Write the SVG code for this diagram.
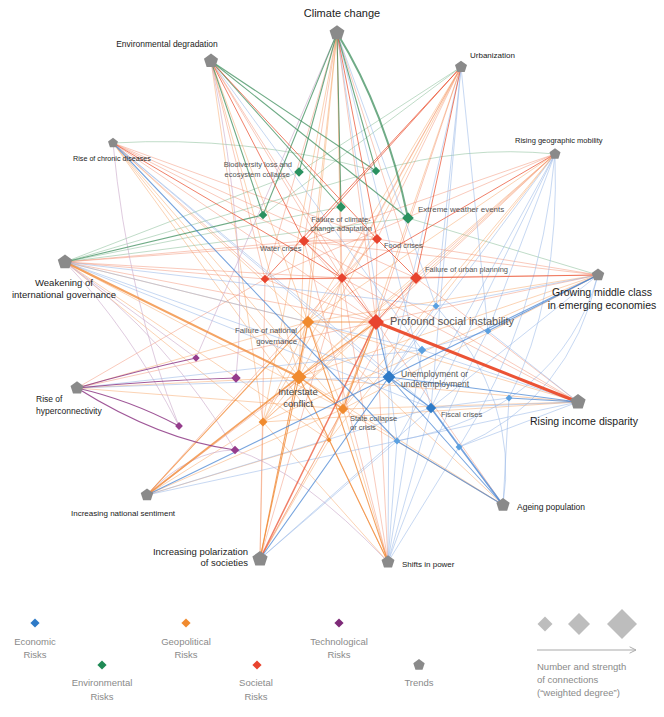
<svg xmlns="http://www.w3.org/2000/svg" width="664" height="717" viewBox="0 0 664 717">
<style>
text{font-family:"Liberation Sans",Arial,sans-serif}
.tl{fill:#222}
.rl{fill:#555}
.lg{fill:#8a8a8a;font-size:9.5px}
#connectors path{fill:none;stroke-linecap:round}
.e1 path{stroke:#3f8f5e;stroke-opacity:.75;stroke-width:1.1}
.e2 path{stroke:#8dc09b;stroke-opacity:.55;stroke-width:1}
.o1 path{stroke:#f08630;stroke-opacity:.75;stroke-width:1.1}
.o2 path{stroke:#f7a86a;stroke-opacity:.5;stroke-width:1}
.r1 path{stroke:#ea4a2a;stroke-opacity:.7;stroke-width:1}
.r2 path{stroke:#f08060;stroke-opacity:.42;stroke-width:1}
.b1 path{stroke:#3f7fd0;stroke-opacity:.7;stroke-width:1.1}
.b2 path{stroke:#8fb1e6;stroke-opacity:.5;stroke-width:1}
.p1 path{stroke:#8e3a86;stroke-opacity:.85;stroke-width:1.2}
.p2 path{stroke:#c9a8c9;stroke-opacity:.6;stroke-width:1}
.trend{fill:#8a8a8a}
.env{fill:#2a9160}
.soc{fill:#e8432e}
.geo{fill:#f08a2e}
.eco{fill:#2e7ac7}
.eco2{fill:#5aa0e0}
.tec{fill:#953c8c}
</style>
<defs>
<path id="pent" d="M0,-1L0.951,-0.309L0.588,0.809L-0.588,0.809L-0.951,-0.309Z"/>
<path id="dia" d="M0,-1L1,0L0,1L-1,0Z"/>
<marker id="arr" viewBox="0 0 10 10" refX="9" refY="5" markerWidth="8" markerHeight="8" orient="auto" markerUnits="userSpaceOnUse">
<path d="M1,1L9,5L1,9" fill="none" stroke="#aaa" stroke-width="1.2"/>
</marker>
</defs>

<g id="connectors">
<g class="e2">
<path d="M461 67L263 215"/><path d="M461 67L299 172"/>
<path d="M555 154Q465 145 376 171"/><path d="M113 143Q245 135 376 171"/>
<path d="M65 262L299 172"/><path d="M65 262L341 207"/><path d="M65 262L376 171"/>
<path d="M598 275L408 218"/><path d="M65 262L408 218"/>
</g>
<g class="o2">
<path d="M337 33L299 377"/><path d="M337 33L308 322"/><path d="M337 33L343 409"/><path d="M337 33L263 422"/>
<path d="M211 61L308 322"/><path d="M211 61L299 377"/><path d="M211 61L263 422"/>
<path d="M461 67L308 322"/><path d="M461 67L299 377"/><path d="M461 67L343 409"/><path d="M461 67L263 422"/>
<path d="M555 154L308 322"/><path d="M555 154L299 377"/><path d="M555 154L343 409"/><path d="M555 154L263 422"/><path d="M555 154L329 440"/>
<path d="M113 143L308 322"/><path d="M113 143L299 377"/><path d="M113 143L343 409"/><path d="M113 143L329 440"/>
<path d="M65 262L308 322"/><path d="M65 262L343 409"/><path d="M65 262L263 422"/><path d="M65 262L329 440"/>
<path d="M598 275L308 322"/><path d="M598 275L299 377"/><path d="M598 275L343 409"/><path d="M598 275L263 422"/>
<path d="M578 402L308 322"/><path d="M578 402L299 377"/><path d="M578 402L343 409"/><path d="M578 402L263 422"/>
<path d="M77 388L299 377"/><path d="M77 388L308 322"/><path d="M77 388L343 409"/>
<path d="M147 495L343 409"/><path d="M147 495L263 422"/><path d="M147 495L329 440"/>
<path d="M260 559L343 409"/><path d="M260 559L329 440"/><path d="M260 559L263 422"/>
<path d="M388 562L343 409"/><path d="M388 562L263 422"/><path d="M388 562L329 440"/>
<path d="M503 505L343 409"/><path d="M503 505L299 377"/><path d="M503 505L308 322"/>
<path d="M299 377L308 322"/><path d="M299 377L263 422"/><path d="M308 322L343 409"/><path d="M308 322L263 422"/><path d="M343 409L329 440"/>
<path d="M376 322L263 422"/><path d="M376 322L329 440"/>
<path d="M416 278L299 377"/><path d="M304 241L299 377"/><path d="M377 239L308 322"/>
</g>
<g class="r2">
<path d="M337 33L304 241"/><path d="M337 33L342 278"/><path d="M337 33L376 322"/><path d="M337 33L416 278"/><path d="M337 33L265 279"/>
<path d="M211 61L342 278"/><path d="M211 61L376 322"/><path d="M211 61L265 279"/>
<path d="M461 67L342 278"/><path d="M461 67L377 239"/><path d="M461 67L376 322"/>
<path d="M555 154L376 322"/><path d="M555 154L416 278"/><path d="M555 154L265 279"/><path d="M555 154L304 241"/>
<path d="M113 143L377 239"/><path d="M113 143L304 241"/><path d="M113 143L416 278"/><path d="M113 143L376 322"/><path d="M113 143L265 279"/>
<path d="M65 262L265 279"/><path d="M65 262L342 278"/><path d="M65 262L376 322"/><path d="M65 262L304 241"/><path d="M65 262L377 239"/>
<path d="M598 275L342 278"/><path d="M598 275L376 322"/><path d="M598 275L304 241"/><path d="M598 275L377 239"/>
<path d="M578 402L342 278"/><path d="M578 402L416 278"/><path d="M578 402L304 241"/>
<path d="M77 388L376 322"/><path d="M77 388L265 279"/>
<path d="M147 495L376 322"/><path d="M147 495L342 278"/>
<path d="M260 559L342 278"/><path d="M260 559L416 278"/><path d="M260 559L265 279"/>
<path d="M388 562L376 322"/><path d="M388 562L342 278"/><path d="M388 562L304 241"/>
<path d="M503 505L376 322"/>
<path d="M376 322L304 241"/><path d="M376 322L377 239"/><path d="M376 322L265 279"/>
<path d="M304 241L377 239"/><path d="M265 279L416 278"/><path d="M377 239L342 278"/>
</g>
<g class="b2">
<path d="M337 33L389 377"/><path d="M337 33L431 408"/><path d="M337 33L436 306"/>
<path d="M211 61L422 350"/>
<path d="M461 67L436 306"/><path d="M461 67L389 377"/><path d="M461 67L431 408"/><path d="M461 67L488 331"/>
<path d="M555 154L389 377"/><path d="M555 154L431 408"/><path d="M555 154L488 331"/><path d="M555 154L397 441"/><path d="M555 154Q540 320 459 447"/><path d="M555 154Q560 300 509 398"/>
<path d="M113 143L431 408"/><path d="M113 143L389 377"/>
<path d="M65 262L389 377"/><path d="M65 262L431 408"/><path d="M65 262L422 350"/><path d="M65 262L436 306"/>
<path d="M598 275L436 306"/><path d="M598 275L431 408"/><path d="M598 275Q570 400 459 447"/><path d="M598 275Q560 410 397 441"/>
<path d="M578 402L431 408"/><path d="M578 402L488 331"/><path d="M578 402L422 350"/><path d="M578 402L459 447"/><path d="M578 402L397 441"/>
<path d="M77 388L389 377"/><path d="M77 388L422 350"/>
<path d="M147 495L431 408"/><path d="M147 495L397 441"/>
<path d="M260 559L431 408"/><path d="M260 559L397 441"/>
<path d="M388 562L389 377"/><path d="M388 562L431 408"/><path d="M388 562L397 441"/><path d="M388 562L422 350"/><path d="M388 562Q440 420 488 331"/><path d="M388 562L459 447"/>
<path d="M503 505L459 447"/><path d="M503 505L509 398"/><path d="M503 505Q520 400 436 306"/>
<path d="M389 377L422 350"/><path d="M389 377L436 306"/><path d="M431 408L459 447"/><path d="M431 408L509 398"/><path d="M488 331L422 350"/><path d="M389 377L397 441"/>
</g>
<g class="p2">
<path d="M337 33L196 358"/><path d="M113 143Q128 300 179 426"/>
<path d="M65 262L196 358"/><path d="M65 262Q170 340 235 450"/><path d="M65 262Q130 330 179 426"/>
<path d="M147 495Q190 450 235 450"/><path d="M388 562Q300 470 235 450"/><path d="M211 61Q250 250 236 378"/>
</g>
<g class="e1">
<path d="M337 33L341 207"/><path d="M337 33L376 171"/><path d="M337 33L299 172"/><path d="M337 33L263 215"/>
<path d="M211 61L376 171"/><path d="M211 61L341 207"/><path d="M211 61L408 218"/><path d="M211 61L263 215"/>
<path d="M65 262L263 215"/>
<path d="M337 33Q386 112 408 218" style="stroke-width:2"/>
</g>
<g class="o1">
<path d="M65 262L299 377" style="stroke-width:2"/>
<path d="M147 495L299 377" style="stroke-width:1.6"/><path d="M147 495L308 322"/>
<path d="M260 559L299 377"/><path d="M260 559L308 322"/>
<path d="M388 562L299 377"/><path d="M388 562L308 322"/>
<path d="M376 322L299 377"/><path d="M376 322L308 322"/><path d="M376 322L343 409"/><path d="M299 377L343 409"/>
</g>
<g class="r1">
<path d="M337 33L377 239"/>
<path d="M211 61L304 241"/><path d="M211 61L377 239"/>
<path d="M461 67L416 278"/><path d="M461 67L304 241"/><path d="M461 67L265 279"/>
<path d="M555 154L342 278"/>
<path d="M113 143L342 278"/>
<path d="M598 275L416 278"/>
<path d="M260 559L376 322" style="stroke-width:1.5"/>
<path d="M376 322L416 278"/><path d="M376 322L342 278"/><path d="M304 241L342 278"/><path d="M265 279L342 278"/><path d="M416 278L377 239"/>
<path d="M376 322L578 402" style="stroke-width:3;stroke-opacity:.95"/>
</g>
<g class="b1">
<path d="M113 143L397 441"/>
<path d="M598 275L488 331"/><path d="M598 275L389 377"/>
<path d="M578 402L509 398"/><path d="M578 402L389 377"/>
<path d="M147 495L389 377"/>
<path d="M260 559L389 377"/>
<path d="M503 505L431 408" style="stroke-width:1.6"/><path d="M503 505L397 441"/><path d="M503 505L389 377"/>
<path d="M389 377L431 408"/><path d="M389 377L376 322"/>
</g>
<g class="p1">
<path d="M77 388Q140 370 196 358"/><path d="M77 388Q160 380 236 378"/><path d="M77 388Q130 400 179 426"/><path d="M77 388Q160 440 235 450"/>
</g>
</g>

<g id="trends">
<g id="climate-change"><use href="#pent" class="trend" transform="translate(337 33) scale(7.8)"/><text class="tl" x="342" y="17" font-size="11" text-anchor="middle">Climate change</text></g>
<g id="environmental-degradation"><use href="#pent" class="trend" transform="translate(211 61) scale(7.4)"/><text class="tl" x="167" y="47" font-size="8.5" text-anchor="middle">Environmental degradation</text></g>
<g id="urbanization"><use href="#pent" class="trend" transform="translate(461 67) scale(6.3)"/><text class="tl" x="470" y="58" font-size="8">Urbanization</text></g>
<g id="rising-geographic-mobility"><use href="#pent" class="trend" transform="translate(555 154) scale(5.8)"/><text class="tl" x="515" y="143" font-size="7.5">Rising geographic mobility</text></g>
<g id="rise-of-chronic-diseases"><use href="#pent" class="trend" transform="translate(113 143) scale(5.2)"/><text class="tl" x="73" y="161" font-size="7.2">Rise of chronic diseases</text></g>
<g id="weakening-of-international-governance"><use href="#pent" class="trend" transform="translate(65 262) scale(7.6)"/><text class="tl" font-size="9.5" text-anchor="middle"><tspan x="64" y="286">Weakening of</tspan><tspan x="64" y="298">international governance</tspan></text></g>
<g id="growing-middle-class"><use href="#pent" class="trend" transform="translate(598 275) scale(6.6)"/><text class="tl" font-size="10.5" text-anchor="middle"><tspan x="602" y="296">Growing middle class</tspan><tspan x="602" y="309">in emerging economies</tspan></text></g>
<g id="rising-income-disparity"><use href="#pent" class="trend" transform="translate(578 402) scale(8)"/><text class="tl" x="584" y="425" font-size="10.5" text-anchor="middle">Rising income disparity</text></g>
<g id="rise-of-hyperconnectivity"><use href="#pent" class="trend" transform="translate(77 388) scale(6.8)"/><text class="tl" font-size="8.5"><tspan x="36" y="402">Rise of</tspan><tspan x="36" y="414">hyperconnectivity</tspan></text></g>
<g id="increasing-national-sentiment"><use href="#pent" class="trend" transform="translate(147 495) scale(6.6)"/><text class="tl" x="71" y="516" font-size="8">Increasing national sentiment</text></g>
<g id="increasing-polarization"><use href="#pent" class="trend" transform="translate(260 559) scale(8)"/><text class="tl" font-size="9.5" text-anchor="end"><tspan x="248" y="555">Increasing polarization</tspan><tspan x="248" y="566">of societies</tspan></text></g>
<g id="shifts-in-power"><use href="#pent" class="trend" transform="translate(388 562) scale(6.8)"/><text class="tl" x="402" y="567" font-size="8">Shifts in power</text></g>
<g id="ageing-population"><use href="#pent" class="trend" transform="translate(503 505) scale(7)"/><text class="tl" x="517" y="510" font-size="8.5">Ageing population</text></g>
</g>

<g id="risks">
<g id="biodiversity-loss"><use href="#dia" class="env" transform="translate(299 172) scale(4.8)"/><text class="rl" font-size="7.5" text-anchor="end"><tspan x="292" y="167">Biodiversity loss and</tspan><tspan x="290" y="177">ecosystem collapse</tspan></text></g>
<g id="env-2"><use href="#dia" class="env" transform="translate(376 171) scale(4.2)"/></g>
<g id="failure-climate-adaptation"><use href="#dia" class="env" transform="translate(341 207) scale(4.9)"/><text class="rl" font-size="7.5" text-anchor="middle"><tspan x="341" y="222">Failure of climate-</tspan><tspan x="341" y="231">change adaptation</tspan></text></g>
<g id="extreme-weather"><use href="#dia" class="env" transform="translate(408 218) scale(5.8)"/><text class="rl" x="418" y="212" font-size="8">Extreme weather events</text></g>
<g id="env-5"><use href="#dia" class="env" transform="translate(263 215) scale(4.3)"/></g>
<g id="water-crises"><use href="#dia" class="soc" transform="translate(304 241) scale(5.3)"/><text class="rl" x="260" y="251" font-size="7.5">Water crises</text></g>
<g id="food-crises"><use href="#dia" class="soc" transform="translate(377 239) scale(5)"/><text class="rl" x="384" y="248" font-size="7.5">Food crises</text></g>
<g id="failure-urban-planning"><use href="#dia" class="soc" transform="translate(416 278) scale(6)"/><text class="rl" x="425" y="272" font-size="7.5">Failure of urban planning</text></g>
<g id="soc-4"><use href="#dia" class="soc" transform="translate(265 279) scale(4.3)"/></g>
<g id="soc-5"><use href="#dia" class="soc" transform="translate(342 278) scale(5)"/></g>
<g id="profound-social-instability"><use href="#dia" class="soc" transform="translate(376 322) scale(8)"/><text class="rl" x="390" y="325" font-size="11">Profound social instability</text></g>
<g id="failure-national-governance"><use href="#dia" class="geo" transform="translate(308 322) scale(6.2)"/><text class="rl" font-size="7.8" text-anchor="end"><tspan x="297" y="333">Failure of national</tspan><tspan x="297" y="344">governance</tspan></text></g>
<g id="interstate-conflict"><use href="#dia" class="geo" transform="translate(299 377) scale(7.6)"/><text class="rl" font-size="9.5" text-anchor="middle" style="fill:#444"><tspan x="298" y="395">Interstate</tspan><tspan x="298" y="407">conflict</tspan></text></g>
<g id="state-collapse"><use href="#dia" class="geo" transform="translate(343 409) scale(5.2)"/><text class="rl" font-size="7.5"><tspan x="350" y="421">State collapse</tspan><tspan x="350" y="430">or crisis</tspan></text></g>
<g id="geo-4"><use href="#dia" class="geo" transform="translate(263 422) scale(4.4)"/></g>
<g id="geo-5"><use href="#dia" class="geo" transform="translate(329 440) scale(2.6)"/></g>
<g id="unemployment"><use href="#dia" class="eco" transform="translate(389 377) scale(6.4)"/><text class="rl" font-size="8.5"><tspan x="401" y="377">Unemployment or</tspan><tspan x="401" y="387">underemployment</tspan></text></g>
<g id="fiscal-crises"><use href="#dia" class="eco" transform="translate(431 408) scale(5.2)"/><text class="rl" x="441" y="417" font-size="7.5">Fiscal crises</text></g>
<g id="eco-3"><use href="#dia" class="eco2" transform="translate(436 306) scale(3.4)"/></g>
<g id="eco-4"><use href="#dia" class="eco2" transform="translate(488 331) scale(3.4)"/></g>
<g id="eco-5"><use href="#dia" class="eco2" transform="translate(422 350) scale(4.3)"/></g>
<g id="eco-6"><use href="#dia" class="eco2" transform="translate(509 398) scale(3.4)"/></g>
<g id="eco-7"><use href="#dia" class="eco2" transform="translate(397 441) scale(3.4)"/></g>
<g id="eco-8"><use href="#dia" class="eco2" transform="translate(459 447) scale(3.4)"/></g>
<g id="tech-1"><use href="#dia" class="tec" transform="translate(196 358) scale(3.7)"/></g>
<g id="tech-2"><use href="#dia" class="tec" transform="translate(236 378) scale(4.7)"/></g>
<g id="tech-3"><use href="#dia" class="tec" transform="translate(179 426) scale(3.9)"/></g>
<g id="tech-4"><use href="#dia" class="tec" transform="translate(235 450) scale(4.3)"/></g>
</g>

<g id="legend">
<g id="legend-economic"><use href="#dia" class="eco" transform="translate(35 623) scale(4.6)"/><text class="lg" text-anchor="middle"><tspan x="35" y="645">Economic</tspan><tspan x="35" y="658">Risks</tspan></text></g>
<g id="legend-environmental"><use href="#dia" style="fill:#1f8a55" transform="translate(102 665) scale(4.6)"/><text class="lg" text-anchor="middle"><tspan x="102" y="686">Environmental</tspan><tspan x="102" y="700">Risks</tspan></text></g>
<g id="legend-geopolitical"><use href="#dia" class="geo" transform="translate(186 623) scale(4.6)"/><text class="lg" text-anchor="middle"><tspan x="186" y="645">Geopolitical</tspan><tspan x="186" y="658">Risks</tspan></text></g>
<g id="legend-societal"><use href="#dia" class="soc" transform="translate(257 665) scale(4.6)"/><text class="lg" text-anchor="middle"><tspan x="256" y="686">Societal</tspan><tspan x="256" y="700">Risks</tspan></text></g>
<g id="legend-technological"><use href="#dia" style="fill:#7e2a78" transform="translate(339 623) scale(4.6)"/><text class="lg" text-anchor="middle"><tspan x="339" y="645">Technological</tspan><tspan x="339" y="658">Risks</tspan></text></g>
<g id="legend-trends"><use href="#pent" class="trend" transform="translate(419 665) scale(6)"/><text class="lg" x="419" y="686" text-anchor="middle">Trends</text></g>
<g id="legend-size">
<use href="#dia" style="fill:#bdbdbd" transform="translate(545 624) scale(7.5)"/>
<use href="#dia" style="fill:#bdbdbd" transform="translate(579 624) scale(11)"/>
<use href="#dia" style="fill:#bdbdbd" transform="translate(622 624) scale(15)"/>
<path d="M537 650L636 650" stroke="#aaa" stroke-width="1.2" marker-end="url(#arr)"/>
<text class="lg" font-size="10"><tspan x="537" y="670">Number and strength</tspan><tspan x="537" y="683">of connections</tspan><tspan x="537" y="696">(“weighted degree”)</tspan></text>
</g>
</g>
</svg>
